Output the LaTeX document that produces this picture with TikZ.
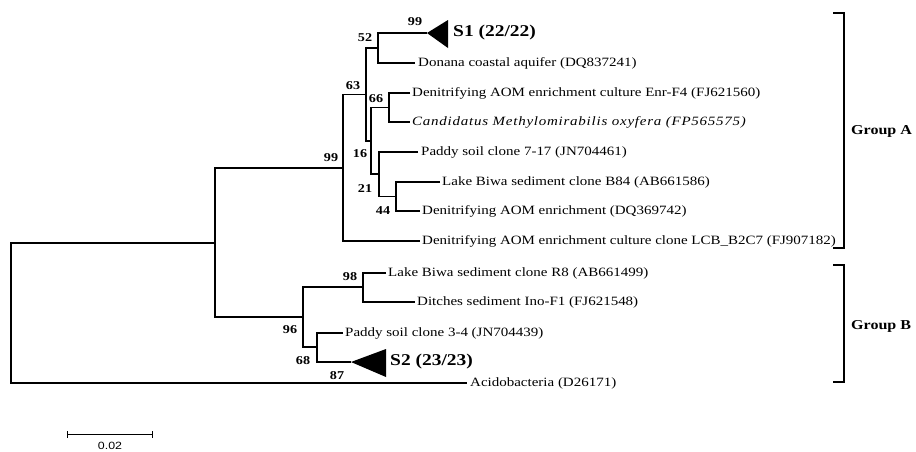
\documentclass[tikz,border=0pt]{standalone}
\usepackage{fontspec}
\setmainfont{Liberation Serif}[FakeStretch=1.18]
\newfontfamily\sansf{Liberation Sans}[FakeStretch=1.18]
\begin{document}
\begin{tikzpicture}[x=1pt,y=-1pt,
  br/.style={line width=1.2pt},
  leaf/.style={anchor=west,inner sep=0pt,font=\fontsize{12.7}{14}\selectfont},
  boot/.style={inner sep=0pt,font=\fontsize{12}{13}\selectfont\bfseries},
  clade/.style={anchor=west,inner sep=0pt,font=\fontsize{16.5}{20}\selectfont\bfseries},
  grp/.style={anchor=west,inner sep=0pt,font=\fontsize{13.6}{16}\selectfont\bfseries}]
\useasboundingbox (0,0) rectangle (916,451);
% internal nodes
\coordinate (r0) at (11,313);
\coordinate (nR) at (215,243);
\coordinate (nA) at (343,168);
\coordinate (n63) at (366,94.5);
\coordinate (n52) at (378,48);
\coordinate (n16) at (371,141);
\coordinate (n66) at (389,107.5);
\coordinate (n21) at (379,174);
\coordinate (n44) at (396,196.5);
\coordinate (nB) at (303,317);
\coordinate (n98) at (363,287);
\coordinate (n68) at (317,347);
% leaf ends
\coordinate (s1) at (427,33);
\coordinate (don) at (415,63);
\coordinate (enr) at (410,93);
\coordinate (cand) at (410,122);
\coordinate (p717) at (418,152);
\coordinate (b84) at (440,182);
\coordinate (dq) at (420,211);
\coordinate (lcb) at (420,241);
\coordinate (r8) at (386,273);
\coordinate (dit) at (415,302);
\coordinate (p34) at (343,333);
\coordinate (s2) at (351,362);
\coordinate (aci) at (467,383);
% branches
\draw[br] (nR) -| (r0) |- (aci);
\draw[br] (nA) -| (nR) |- (nB);
\draw[br] (n63) -| (nA) |- (lcb);
\draw[br] (n52) -| (n63) |- (n16);
\draw[br] (s1) -| (n52) |- (don);
\draw[br] (n66) -| (n16) |- (n21);
\draw[br] (enr) -| (n66) |- (cand);
\draw[br] (p717) -| (n21) |- (n44);
\draw[br] (b84) -| (n44) |- (dq);
\draw[br] (n98) -| (nB) |- (n68);
\draw[br] (r8) -| (n98) |- (dit);
\draw[br] (p34) -| (n68) |- (s2);
% collapsed clades
\fill (s1) -- ++(21,-13) -- ++(0,28) -- cycle;
\fill (s2) -- ++(35,-13) -- ++(0,28) -- cycle;
% leaf labels
\node[clade] (ls1) at (453,33) {S1 (22/22)};
\node[leaf] (ldon) at ([xshift=3pt]don) {Donana coastal aquifer (DQ837241)};
\node[leaf] (lenr) at ([xshift=2pt]enr) {Denitrifying AOM enrichment culture Enr-F4 (FJ621560)};
\node[leaf] (lcand) at ([xshift=2pt]cand) {\itshape\addfontfeature{LetterSpace=6}Candidatus Methylomirabilis oxyfera (FP565575)};
\node[leaf] (lp717) at ([xshift=3pt]p717) {Paddy soil clone 7-17 (JN704461)};
\node[leaf] (lb84) at ([xshift=2pt]b84) {Lake Biwa sediment clone B84 (AB661586)};
\node[leaf] (ldq) at ([xshift=2pt]dq) {Denitrifying AOM enrichment (DQ369742)};
\node[leaf] (llcb) at ([xshift=2pt]lcb) {Denitrifying AOM enrichment culture clone LCB\_B2C7 (FJ907182)};
\node[leaf] (lr8) at ([xshift=2pt]r8) {Lake Biwa sediment clone R8 (AB661499)};
\node[leaf] (ldit) at ([xshift=2pt]dit) {Ditches sediment Ino-F1 (FJ621548)};
\node[leaf] (lp34) at ([xshift=2pt]p34) {Paddy soil clone 3-4 (JN704439)};
\node[clade] (ls2) at (390,362) {S2 (23/23)};
\node[leaf] (laci) at ([xshift=3pt]aci) {Acidobacteria (D26171)};
% bootstrap values
\node[boot] (b99a) at (415,22) {99};
\node[boot] (b52) at (365,38) {52};
\node[boot] (b63) at (353,86) {63};
\node[boot] (b66) at (376,99) {66};
\node[boot] (b16) at (360,154) {16};
\node[boot] (b21) at (365,189) {21};
\node[boot] (b44) at (383,211) {44};
\node[boot] (b99b) at (331,158) {99};
\node[boot] (b98) at (350,277) {98};
\node[boot] (b96) at (290,330) {96};
\node[boot] (b68) at (303,361) {68};
\node[boot] (b87) at (337,376) {87};
% group brackets
\coordinate (gat) at (833,13);
\coordinate (gab) at (833,248);
\coordinate (gbt) at (833,265);
\coordinate (gbb) at (833,382);
\draw[br] (gat) -- ++(11,0) |- (gab);
\draw[br] (gbt) -- ++(11,0) |- (gbb);
\node[grp] (ga) at (851,131) {Group A};
\node[grp] (gb) at (851,326) {Group B};
% scale bar
\coordinate (sb1) at (67,434);
\coordinate (sb2) at (152,434);
\draw[line width=1pt] (sb1) -- (sb2);
\draw[line width=1pt] ([yshift=-3.5pt]sb1) -- ([yshift=3.5pt]sb1);
\draw[line width=1pt] ([yshift=-3.5pt]sb2) -- ([yshift=3.5pt]sb2);
\node[inner sep=0pt,font=\sansf\fontsize{10.5}{12}\selectfont] (sbl) at (110,446) {0.02};
\end{tikzpicture}
\end{document}
